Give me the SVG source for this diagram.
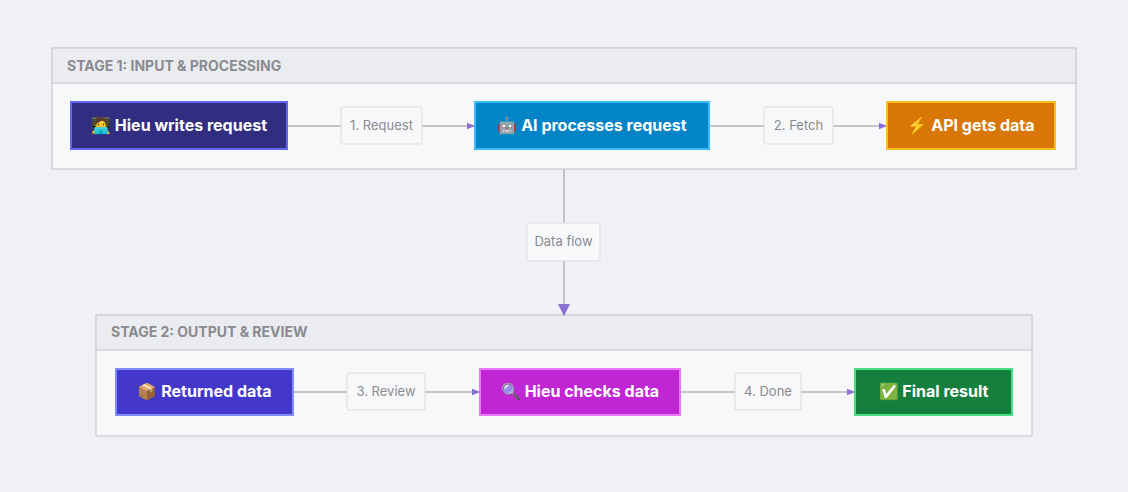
<svg xmlns="http://www.w3.org/2000/svg" width="1128" height="492" viewBox="0 0 1128 492">
<style>
.grp{fill:#f7f8fa;stroke:#d1d2d6;stroke-width:1.5}
.hdr{fill:#ebecef;stroke:#d1d2d6;stroke-width:1.5}
.ht{font-family:Inter,"Liberation Sans",sans-serif;font-size:14px;font-weight:700;fill:#8a8b90}
.nt{font-family:Inter,"Liberation Sans",sans-serif;font-size:16px;font-weight:700;fill:#fff;text-anchor:middle}
.lb{fill:#f7f8fa;stroke:#dcdde0;stroke-width:1}
.lt{font-family:Inter,"Liberation Sans",sans-serif;font-size:13px;fill:#8a8b90;text-anchor:middle}
.e{stroke:#b4b5b9;stroke-width:1.5;fill:none}
</style>
<defs>
<marker id="a" viewBox="0 0 10 10" refX="10" refY="5" markerWidth="8" markerHeight="8" markerUnits="userSpaceOnUse" orient="auto"><path d="M0,1L10,5L0,9z" fill="#8b6fd1"/></marker>
<marker id="b" viewBox="0 0 10 10" refX="10" refY="5" markerWidth="20" markerHeight="12" markerUnits="userSpaceOnUse" orient="auto"><path d="M0,0L10,5L0,10z" fill="#8b6fd1"/></marker>
</defs>
<rect width="1128" height="492" fill="#f0f1f5"/>
<g id="stage1">
<rect class="grp" x="52" y="48" width="1024" height="121"/>
<rect class="hdr" x="52" y="48" width="1024" height="35"/>
<text class="ht" x="67" y="71">STAGE 1: INPUT &amp; PROCESSING</text>
</g>
<g id="stage2">
<rect class="grp" x="96" y="315" width="936" height="121"/>
<rect class="hdr" x="96" y="315" width="936" height="35"/>
<text class="ht" x="111" y="337">STAGE 2: OUTPUT &amp; REVIEW</text>
</g>
<g id="connectors">
<path class="e" d="M287 126H475" marker-end="url(#a)"/>
<path class="e" d="M709 126H887" marker-end="url(#a)"/>
<path class="e" d="M564 169V316" marker-end="url(#b)"/>
<path class="e" d="M293 392H480" marker-end="url(#a)"/>
<path class="e" d="M680 392H855" marker-end="url(#a)"/>
<rect class="lb" x="341" y="107" width="81" height="37" rx="2"/><text class="lt" x="381.5" y="130">1. Request</text>
<rect class="lb" x="764" y="107" width="69" height="37" rx="2"/><text class="lt" x="798.5" y="130">2. Fetch</text>
<rect class="lb" x="527" y="223" width="73" height="38" rx="2"/><text class="lt" x="563.5" y="246">Data flow</text>
<rect class="lb" x="347" y="373" width="78" height="37" rx="2"/><text class="lt" x="386" y="396">3. Review</text>
<rect class="lb" x="735" y="373" width="66" height="37" rx="2"/><text class="lt" x="768" y="396">4. Done</text>
</g>
<g id="n1"><rect x="71" y="102" width="216" height="47" fill="#312e81" stroke="#6366f1" stroke-width="2"/><text class="nt" x="179" y="131">🧑‍💻 Hieu writes request</text></g>
<g id="n2"><rect x="475" y="102" width="234" height="47" fill="#0284c7" stroke="#38bdf8" stroke-width="2"/><text class="nt" x="592" y="131">🤖 AI processes request</text></g>
<g id="n3"><rect x="887" y="102" width="168" height="47" fill="#d97706" stroke="#fbbf24" stroke-width="2"/><text class="nt" x="971" y="131">⚡ API gets data</text></g>
<g id="n4"><rect x="116" y="369" width="177" height="46" fill="#4338ca" stroke="#818cf8" stroke-width="2"/><text class="nt" x="204.5" y="397">📦 Returned data</text></g>
<g id="n5"><rect x="480" y="369" width="200" height="46" fill="#c026d3" stroke="#e879f9" stroke-width="2"/><text class="nt" x="580" y="397">🔍 Hieu checks data</text></g>
<g id="n6"><rect x="855" y="369" width="157" height="46" fill="#15803d" stroke="#4ade80" stroke-width="2"/><text class="nt" x="933.5" y="397">✅ Final result</text></g>
</svg>
